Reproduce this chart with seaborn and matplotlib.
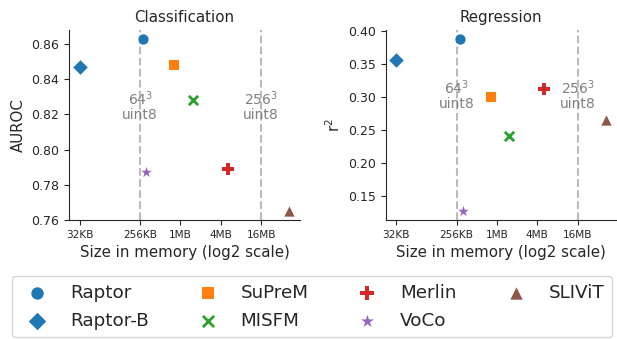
import numpy as np
import pandas as pd
import matplotlib
matplotlib.use("Agg")
import matplotlib.pyplot as plt
import seaborn as sns

# Model names, memory footprint (bytes) and scores
models = ["Raptor", "Raptor-B", "SuPreM", "MISFM", "Merlin", "VoCo", "SLIViT"]
size_bytes = [2**18.15, 2**15, 2**19.7, 2**20.6, 2**22.35, 2**18.3, 2**25.4]
auroc = [0.863, 0.847, 0.848, 0.828, 0.789, 0.787, 0.765]
r2 = [0.389, 0.356, 0.300, 0.241, 0.313, 0.126, 0.265]

tick_bytes = [2**15, 2**18, 2**20, 2**22, 2**24]
tick_labels = ["32KB", "256KB", "1MB", "4MB", "16MB"]

ref_lines = [2**18, 2**24]
ref_labels = ["$64^3$\nuint8", "$256^3$\nuint8"]

colors = ["C0", "C0", "C1", "C2", "C3", "C4", "C5"]
markers = ["o", "D", "s", "x", "P", "*", "^"]
sizes = [55, 55, 55, 45, 65, 65, 55]

df = pd.DataFrame({"model": models, "size": size_bytes, "AUROC": auroc, "r2": r2})

sns.set_style("ticks")
plt.rcParams["font.family"] = ["DejaVu Sans"]

fig, axes = plt.subplots(1, 2, figsize=(6.17, 3.39), dpi=100)
fig.subplots_adjust(left=0.112, right=0.999, bottom=0.351, top=0.9115, wspace=0.372)

panels = [("AUROC", "Classification", "AUROC", 0.825),
          ("r2", "Regression", "r$^2$", 0.304)]

for ax, (col, title, ylab, text_y) in zip(axes, panels):
    for ln in ref_lines:
        ax.axvline(ln, color="#bbbbbb", linestyle="--", linewidth=1.5, zorder=0)
    for ln, lab in zip(ref_lines, ref_labels):
        ax.text(ln, text_y, lab, ha="center", va="center", color="gray",
                fontsize=10, linespacing=1.0)
    for i, name in enumerate(models):
        sub = df[df["model"] == name]
        lw = 2 if markers[i] == "x" else 0
        sns.scatterplot(data=sub, x="size", y=col, marker=markers[i],
                        color=colors[i], s=sizes[i], linewidth=lw,
                        label=name, ax=ax)
    ax.set_xscale("log", base=2)
    ax.set_xticks(tick_bytes)
    ax.set_xticklabels(tick_labels)
    ax.minorticks_off()
    ax.tick_params(axis="x", labelsize=7.6)
    ax.tick_params(axis="y", labelsize=9)
    ax.set_title(title, fontsize=10.8)
    ax.set_xlabel("Size in memory (log2 scale)", fontsize=10.8)
    ax.set_ylabel(ylab, fontsize=10.8)
    sns.despine(ax=ax)

axes[0].set_yticks([0.76, 0.78, 0.80, 0.82, 0.84, 0.86])
axes[1].set_yticks([0.15, 0.20, 0.25, 0.30, 0.35, 0.40])

handles, labels = axes[0].get_legend_handles_labels()
for ax in axes:
    ax.get_legend().remove()
fig.legend(handles, labels, loc="lower center", bbox_to_anchor=(0.505, 0.0),
           ncol=4, fontsize=13.2, frameon=True, markerscale=1.2,
           borderaxespad=0.1, columnspacing=2.2, labelspacing=0.55)

fig.savefig("out.png", dpi=100)
